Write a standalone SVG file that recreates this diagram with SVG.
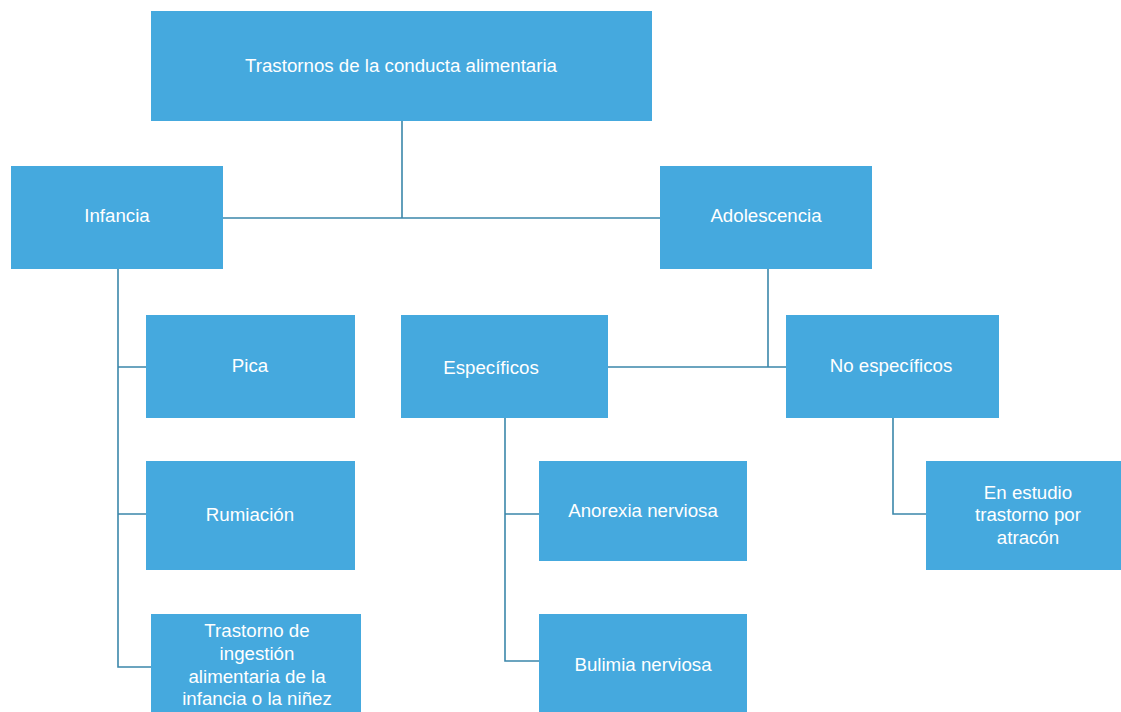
<svg xmlns="http://www.w3.org/2000/svg" width="1121" height="712" viewBox="0 0 1121 712">
<style>
.b{fill:#45a9de}
.t{fill:#ffffff;font-family:"Liberation Sans",Arial,sans-serif;font-size:18.7px;text-anchor:middle}
.c{stroke:#3b87aa;stroke-width:1.6;fill:none}
</style>
<rect width="1121" height="712" fill="#ffffff"/>
<g id="connectors">
<path class="c" d="M402 121V218M223 218H660"/>
<path class="c" d="M768 269V367M608 367H786"/>
<path class="c" d="M118 269V667H151M118 367H146M118 514H146"/>
<path class="c" d="M505 418V661H539M505 514H539"/>
<path class="c" d="M893 418V514H926"/>
</g>
<g id="n-root"><rect class="b" x="151" y="11" width="501" height="110"/><text class="t" x="401" y="72">Trastornos de la conducta alimentaria</text></g>
<g id="n-infancia"><rect class="b" x="11" y="166" width="212" height="103"/><text class="t" x="117" y="222">Infancia</text></g>
<g id="n-adolescencia"><rect class="b" x="660" y="166" width="212" height="103"/><text class="t" x="766" y="222">Adolescencia</text></g>
<g id="n-pica"><rect class="b" x="146" y="315" width="209" height="103"/><text class="t" x="250" y="372">Pica</text></g>
<g id="n-rumiacion"><rect class="b" x="146" y="461" width="209" height="109"/><text class="t" x="250" y="521">Rumiación</text></g>
<g id="n-trastorno"><rect class="b" x="151" y="614" width="210" height="98"/><text class="t" x="257" y="637">Trastorno de</text><text class="t" x="257" y="660">ingestión</text><text class="t" x="257" y="683">alimentaria de la</text><text class="t" x="257" y="705">infancia o la niñez</text></g>
<g id="n-especificos"><rect class="b" x="401" y="315" width="207" height="103"/><text class="t" x="491" y="374">Específicos</text></g>
<g id="n-noespecificos"><rect class="b" x="786" y="315" width="213" height="103"/><text class="t" x="891" y="372">No específicos</text></g>
<g id="n-anorexia"><rect class="b" x="539" y="461" width="208" height="100"/><text class="t" x="643" y="517">Anorexia nerviosa</text></g>
<g id="n-bulimia"><rect class="b" x="539" y="614" width="208" height="98"/><text class="t" x="643" y="671">Bulimia nerviosa</text></g>
<g id="n-estudio"><rect class="b" x="926" y="461" width="195" height="109"/><text class="t" x="1028" y="499">En estudio</text><text class="t" x="1028" y="521">trastorno por</text><text class="t" x="1028" y="544">atracón</text></g>
</svg>
